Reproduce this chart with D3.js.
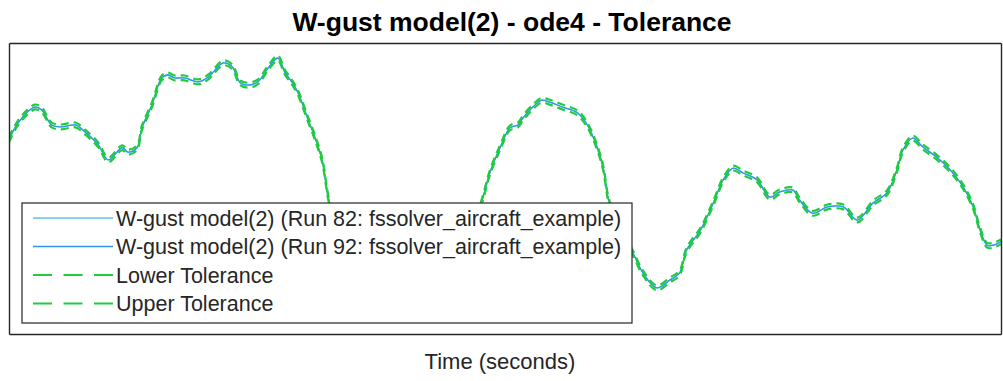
<!DOCTYPE html>
<html>
<head>
<meta charset="utf-8">
<script src="https://cdn.jsdelivr.net/npm/d3@7"></script>
<style>
  html, body { margin: 0; padding: 0; background: #fff; }
  svg { display: block; font-family: "Liberation Sans", Arial, Helvetica, sans-serif; }
</style>
</head>
<body>
<svg id="chart" width="1003" height="381"></svg>
<script>
// Simulation time (s) and W-gust output signal
const time = [0.00, 0.09, 0.26, 0.33, 0.43, 0.53, 0.67, 0.77, 0.90, 1.00,
  1.14, 1.20, 1.29, 1.34, 1.44, 1.54, 1.60, 1.67, 1.77, 1.91,
  2.01, 2.16, 2.25, 2.33, 2.41, 2.51, 2.61, 2.71, 2.78, 2.85,
  2.91, 3.01, 3.10, 3.16, 3.22, 3.29, 3.39, 3.54, 3.74, 3.99,
  4.24, 4.50, 4.65, 4.77, 4.85, 4.95, 5.05, 5.13, 5.18, 5.28,
  5.37, 5.45, 5.58, 5.73, 5.83, 5.93, 5.99, 6.04, 6.11, 6.21,
  6.29, 6.39, 6.53, 6.66, 6.76, 6.83, 6.97, 7.10, 7.20, 7.30,
  7.40, 7.54, 7.67, 7.77, 7.90, 7.97, 8.10, 8.25, 8.41, 8.55,
  8.71, 8.85, 8.95, 9.01, 9.11, 9.21, 9.35, 9.49, 9.62, 9.72,
  9.79, 9.86, 9.92, 10.00];

const run82 = [10.0, 13.5, 16.8, 16.2, 13.1, 12.7, 13.1, 11.6, 9.0, 5.9,
  8.4, 7.5, 8.4, 12.5, 17.2, 22.8, 23.4, 22.8, 22.8, 22.0,
  23.0, 25.9, 25.1, 21.8, 21.3, 22.0, 24.8, 26.9, 24.0, 22.0,
  19.9, 14.5, 9.6, 5.5, -2.0, -7.5, -13.7, -18.9, -22.0, -23.0,
  -20.9, -15.2, -9.6, -2.4, 3.4, 8.4, 12.5, 13.1, 14.5, 16.8,
  18.2, 17.8, 16.8, 15.6, 13.1, 8.4, 4.2, -2.0, -6.5, -10.6,
  -13.3, -17.4, -20.5, -18.9, -17.4, -12.7, -8.6, -3.0, 1.8, 4.2,
  3.2, 1.8, -1.8, -0.7, -0.3, -2.4, -5.1, -3.8, -3.8, -6.5,
  -3.0, -0.9, 3.8, 7.9, 10.4, 8.6, 6.5, 3.8, 0.3, -3.8,
  -8.6, -11.7, -11.7, -11.0];

// Run 92 reproduces Run 82 within tolerance
const run92 = run82.slice();

// Absolute tolerance applied around the baseline run
const absTol = 0.5;

const legendLabels = [
  "W-gust model(2) (Run 82: fssolver_aircraft_example)",
  "W-gust model(2) (Run 92: fssolver_aircraft_example)",
  "Lower Tolerance",
  "Upper Tolerance"
];

const svg = d3.select("#chart");
const plot = { left: 9, top: 43, right: 1001, bottom: 334 };

const x = d3.scaleLinear().domain([0, 10]).range([plot.left, plot.right]);
const y = d3.scaleLinear().domain([-30, 30]).range([plot.bottom, plot.top]);

const series = [
  { name: legendLabels[0], values: run82, color: "#5cc0f2", width: 1.3, dash: null },
  { name: legendLabels[1], values: run92, color: "#2f95ea", width: 1.3, dash: null },
  { name: legendLabels[2], values: run82.map(v => v - absTol), color: "#1fcc3a", width: 2.2, dash: "8,5" },
  { name: legendLabels[3], values: run82.map(v => v + absTol), color: "#1fcc3a", width: 2.2, dash: "8,5" }
];

svg.append("defs").append("clipPath").attr("id", "plot-clip")
  .append("rect")
  .attr("x", plot.left).attr("y", plot.top)
  .attr("width", plot.right - plot.left).attr("height", plot.bottom - plot.top);

const line = d3.line()
  .x((d, i) => x(time[i]))
  .y(d => y(d))
  .curve(d3.curveCatmullRom.alpha(0.5));

const lines = svg.append("g").attr("clip-path", "url(#plot-clip)");
series.forEach(s => {
  lines.append("path")
    .attr("d", line(s.values))
    .attr("fill", "none")
    .attr("stroke", s.color)
    .attr("stroke-width", s.width)
    .attr("stroke-dasharray", s.dash)
    .attr("stroke-linejoin", "round");
});

// Axes without tick marks, boxed
const axisColor = "#262626";
const xAxis = svg.append("g").attr("transform", `translate(0,${plot.bottom})`)
  .call(d3.axisBottom(x).tickValues([]).tickSizeOuter(0));
const yAxis = svg.append("g").attr("transform", `translate(${plot.left},0)`)
  .call(d3.axisLeft(y).tickValues([]).tickSizeOuter(0));
const xTop = svg.append("g").attr("transform", `translate(0,${plot.top})`)
  .call(d3.axisTop(x).tickValues([]).tickSizeOuter(0));
const yRight = svg.append("g").attr("transform", `translate(${plot.right},0)`)
  .call(d3.axisRight(y).tickValues([]).tickSizeOuter(0));
[xAxis, yAxis, xTop, yRight].forEach(g =>
  g.select(".domain").attr("stroke", axisColor).attr("stroke-width", 1.4));

// Title and axis label
svg.append("text")
  .attr("x", 512).attr("y", 31)
  .attr("text-anchor", "middle")
  .attr("font-size", 26.5).attr("font-weight", "bold")
  .attr("fill", "#000")
  .text("W-gust model(2) - ode4 - Tolerance");

svg.append("text")
  .attr("x", 500).attr("y", 369)
  .attr("text-anchor", "middle")
  .attr("font-size", 22)
  .attr("fill", axisColor)
  .text("Time (seconds)");

// Legend
const legend = svg.append("g");
legend.append("rect")
  .attr("x", 22).attr("y", 203)
  .attr("width", 610).attr("height", 120)
  .attr("fill", "#fff")
  .attr("stroke", axisColor).attr("stroke-width", 1.2);

series.forEach((s, i) => {
  const cy = 218 + i * 28.5;
  legend.append("line")
    .attr("x1", 33).attr("x2", 113)
    .attr("y1", cy).attr("y2", cy)
    .attr("stroke", s.color)
    .attr("stroke-width", s.dash ? 1.8 : 1.3)
    .attr("stroke-dasharray", s.dash ? "19,11.5" : null);
  legend.append("text")
    .attr("x", 116).attr("y", cy)
    .attr("dy", "0.35em")
    .attr("font-size", 21.5)
    .attr("fill", axisColor)
    .text(s.name);
});
</script>
</body>
</html>
